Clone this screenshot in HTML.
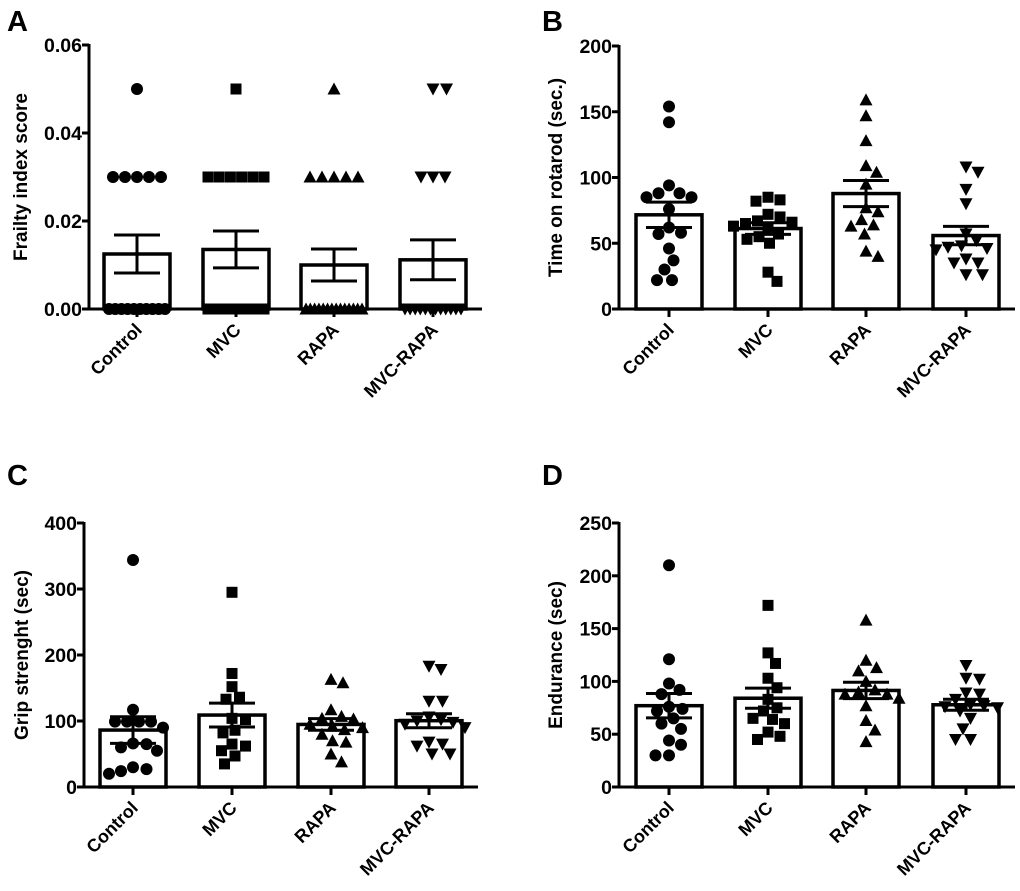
<!DOCTYPE html>
<html><head><meta charset="utf-8"><style>
html,body{margin:0;padding:0;background:#fff;}
svg{display:block;font-family:"Liberation Sans",Arial,sans-serif;font-weight:bold;}
</style></head><body>
<svg id="fig" width="1020" height="891" viewBox="0 0 1020 891" xmlns="http://www.w3.org/2000/svg"></svg>
<script>
const categories = ["Control","MVC","RAPA","MVC-RAPA"];
const zeros = n => Array(n).fill(0);
const frailtyControl = [0.05,0.03,0.03,0.03,0.03,0.03].concat(zeros(10));
const frailtyMVC = [0.05,0.03,0.03,0.03,0.03,0.03,0.03].concat(zeros(10));
const frailtyRAPA = [0.05,0.03,0.03,0.03,0.03,0.03].concat(zeros(14));
const frailtyMVCRAPA = [0.05,0.05,0.03,0.03,0.03].concat(zeros(12));
const frailtyTicks = ["0.00","0.02","0.04","0.06"];
const rotarodControl = [154,142,94,88,88,85,85,76,62,57,58,46,37,30,22,22];
const rotarodMVC = [85,83,82,72,70,67,66,65,63,62,57,55,53,50,28,21];
const rotarodRAPA = [159,147,128,109,104,95,77,74,68,64,63,57,44,40];
const rotarodMVCRAPA = [108,104,91,80,57,52,48,47,46,45,38,35,35,26,26];
const rotarodTicks = ["0","50","100","150","200"];
const gripControl = [344,117,99,99,99,99,90,66,65,60,55,30,27,24,20];
const gripMVC = [295,172,152,136,133,104,102,82,86,65,62,55,47,35];
const gripRAPA = [163,158,117,107,104,103,95,92,90,87,80,70,68,50,38];
const gripMVCRAPA = [183,178,130,130,106,102,100,98,95,90,68,62,65,50,50];
const gripTicks = ["0","100","200","300","400"];
const enduranceControl = [210,121,98,92,88,76,74,72,65,60,55,44,40,30,30];
const enduranceMVC = [172,127,117,103,94,83,75,72,65,64,60,52,48,45];
const enduranceRAPA = [158,120,113,110,100,92,90,88,88,84,77,63,54,43];
const enduranceMVCRAPA = [115,103,102,89,88,83,78,77,76,75,72,65,55,45,45];
const enduranceTicks = ["0","50","100","150","200","250"];

const NS="http://www.w3.org/2000/svg";
const svg=document.getElementById('fig');
function mk(tag,attrs,parent){const e=document.createElementNS(NS,tag);for(const k in attrs)e.setAttribute(k,attrs[k]);(parent||svg).appendChild(e);return e;}

const panels=[
 {letter:"A",lx:7,ly:31,title:"Frailty index score",ax:89,top:45,bot:309,right:482,max:0.06,ticks:frailtyTicks,centers:[137,236,334,433],series:[frailtyControl,frailtyMVC,frailtyRAPA,frailtyMVCRAPA],tx:20,name:"frailty"},
 {letter:"B",lx:542,ly:31,title:"Time on rotarod (sec.)",ax:619,top:46,bot:309,right:1015,max:200,ticks:rotarodTicks,centers:[669,768,866,966],series:[rotarodControl,rotarodMVC,rotarodRAPA,rotarodMVCRAPA],tx:555,name:"rotarod"},
 {letter:"C",lx:7,ly:485,title:"Grip strenght (sec)",ax:84,top:523,bot:787,right:478,max:400,ticks:gripTicks,centers:[133,232,331,429],series:[gripControl,gripMVC,gripRAPA,gripMVCRAPA],tx:21,name:"grip"},
 {letter:"D",lx:542,ly:485,title:"Endurance (sec)",ax:619,top:523,bot:787,right:1015,max:250,ticks:enduranceTicks,centers:[669,768,866,966],series:[enduranceControl,enduranceMVC,enduranceRAPA,enduranceMVCRAPA],tx:555,name:"endurance"}
];

function marker(g,shape,x,y){
 let e;
 if(shape===0) e=mk('circle',{cx:x,cy:y,r:6,fill:'#000'},g);
 else if(shape===1) e=mk('rect',{x:x-5.5,y:y-5.5,width:11,height:11,fill:'#000'},g);
 else if(shape===2) e=mk('polygon',{points:`${x-6.5},${y+5.5} ${x+6.5},${y+5.5} ${x},${y-6.5}`,fill:'#000'},g);
 else e=mk('polygon',{points:`${x-6.5},${y-5.5} ${x+6.5},${y-5.5} ${x},${y+6.5}`,fill:'#000'},g);
 
 
}

function swarm(vals,ys){
 const n=vals.length, off=new Array(n).fill(null);
 const groups={};
 vals.forEach((v,i)=>{(groups[v]=groups[v]||[]).push(i);});
 const placed=[];
 for(const k in groups){const idx=groups[k];if(idx.length>=3){const m=idx.length;const st=Math.min(12,56/(m-1));idx.forEach((i,j)=>{off[i]=(j-(m-1)/2)*st;placed.push(i);});}}
 const order=vals.map((v,i)=>i).filter(i=>off[i]===null).sort((a,b)=>vals[b]-vals[a]);
 for(const i of order){
  let best=0,found=false;
  for(let k=0;k<40&&!found;k++){
   const cands=k===0?[0]:[k*1.5,-k*1.5];
   for(const c of cands){
    let ok=true;
    for(const p of placed){const dx=off[p]-c,dy=ys[p]-ys[i];if(dx*dx+dy*dy<150){ok=false;break;}}
    if(ok){best=c;found=true;break;}
   }
  }
  off[i]=best;placed.push(i);
 }
 return off;
}

panels.forEach(P=>{
 const g=mk('g',{});
 
 
 const yS=v=>P.bot-(v/P.max)*(P.bot-P.top);
 const L=mk('text',{x:P.lx,y:P.ly,'font-size':29,fill:'#000'},g);L.textContent=P.letter;
 
 const cy=(P.top+P.bot)/2;
 const T=mk('text',{x:P.tx,y:cy,'font-size':19,'text-anchor':'middle',transform:`rotate(-90 ${P.tx} ${cy})`,dy:7,fill:'#000'},g);T.textContent=P.title;
 
 P.ticks.forEach((t,i)=>{
  const v=P.max*i/(P.ticks.length-1);const y=yS(v);
  mk('line',{x1:P.ax-7,x2:P.ax,y1:y,y2:y,stroke:'#000','stroke-width':3},g);
  const tt=mk('text',{x:P.ax-7,y:y+7,'font-size':19.5,'text-anchor':'end',fill:'#000'},g);tt.textContent=t;
  
 });
 P.series.forEach((vals,ci)=>{
  const cx=P.centers[ci];
  const n=vals.length,mean=vals.reduce((a,b)=>a+b,0)/n;
  const sd=Math.sqrt(vals.reduce((a,b)=>a+(b-mean)**2,0)/(n-1)),sem=sd/Math.sqrt(n);
  const b=mk('rect',{x:cx-33,y:yS(mean),width:66,height:P.bot-yS(mean),fill:'#fff',stroke:'#000','stroke-width':3.5},g);
  
  const ys=vals.map(yS);
  const off=swarm(vals,ys);
  vals.forEach((v,i)=>marker(g,ci,cx+off[i],ys[i]));
  const eg=mk('g',{stroke:'#000','stroke-width':3},g);
  
  mk('line',{x1:cx,x2:cx,y1:yS(mean+sem),y2:yS(mean-sem)},eg);
  mk('line',{x1:cx-23,x2:cx+23,y1:yS(mean+sem),y2:yS(mean+sem)},eg);
  mk('line',{x1:cx-23,x2:cx+23,y1:yS(mean-sem),y2:yS(mean-sem)},eg);
  mk('line',{x1:cx,x2:cx,y1:P.bot,y2:P.bot+8,stroke:'#000','stroke-width':3},g);
  const xl=mk('text',{x:cx+6,y:P.bot+22,'font-size':18,'text-anchor':'end',transform:`rotate(-45 ${cx+6} ${P.bot+22})`,fill:'#000'},g);
  xl.textContent=categories[ci];
  
 });
 const ya=mk('line',{x1:P.ax,x2:P.ax,y1:P.top-1,y2:P.bot+1.5,stroke:'#000','stroke-width':3},g);
 
 const xa=mk('line',{x1:P.ax-7,x2:P.right,y1:P.bot,y2:P.bot,stroke:'#000','stroke-width':3},g);
 
});
</script>
</body></html>
